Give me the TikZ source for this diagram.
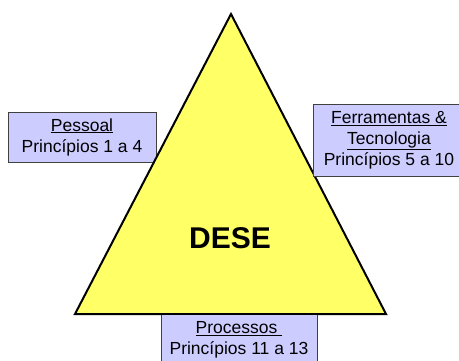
\documentclass[tikz,border=0pt]{standalone}
\usepackage{fontspec}
\setmainfont{Liberation Sans}
\definecolor{amarelo}{HTML}{FFFF66}
\definecolor{lilas}{HTML}{CCCCFF}
\begin{document}
\begin{tikzpicture}[x=1pt,y=-1pt,
    caixa/.style={draw=black!75,fill=lilas,line width=0.9pt,align=center,inner sep=0pt,
        font=\fontsize{17.5}{21}\selectfont}]
\useasboundingbox (0,0) rectangle (459,360);

\node (pessoal) at (82,137)[caixa,minimum width=148,minimum height=50]
    {\underline{Pessoal}\\Princípios 1 a 4};

% triangulo
\coordinate (topo) at (231,14);
\coordinate (esq) at (75,314);
\coordinate (dir) at (386,314);
\draw[line width=2pt,fill=amarelo,line join=miter] (topo)--(esq)--(dir)--cycle;
\node (dese) at (230,238)[font=\fontsize{30}{30}\selectfont\bfseries] {DESE};

\node (ferramentas) at (389,140)[caixa,minimum width=152,minimum height=72]
    {\underline{Ferramentas \&}\\\underline{Tecnologia}\\Princípios 5 a 10};
\node (processos) at (239,340)[caixa,minimum width=156,minimum height=52]
    {\underline{Processos\ }\\Princípios 11 a 13};
\draw[line width=2pt] (esq)--(dir);
\end{tikzpicture}
\end{document}
